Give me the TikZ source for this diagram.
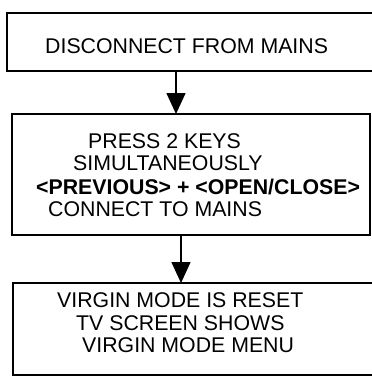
\documentclass[tikz,border=0pt]{standalone}
\usepackage{fontspec}
\setmainfont{Liberation Sans}
\usetikzlibrary{arrows.meta}
\begin{document}
\begin{tikzpicture}[x=1pt,y=-1pt,
  boxline/.style={line width=2pt},
  txt/.style={anchor=base west,inner sep=0pt,font=\fontsize{21.3}{24}\selectfont},
  flow/.style={line width=1.6pt,-{Triangle[length=21pt,width=19pt]}}]
\useasboundingbox (0,0) rectangle (372,376);
\begin{scope}
\clip (0,0) rectangle (372,376);
\draw[boxline] (7,13) rectangle (390,71);
\draw[boxline] (12,114) rectangle (370,235);
\draw[boxline] (13,283) rectangle (390,375);
\end{scope}
\coordinate (b1) at (176,71);
\coordinate (b2t) at (176,114);
\coordinate (b2b) at (181,235);
\coordinate (b3) at (181,283);
\node[txt] (t1) at (45,53) {DISCONNECT FROM MAINS};
\node[txt] (t2a) at (88,148) {PRESS 2 KEYS};
\node[txt] (t2b) at (73,170) {SIMULTANEOUSLY};
\node[txt,font=\fontsize{21.3}{24}\selectfont\bfseries] (t2c) at (36,194) {<PREVIOUS> + <OPEN/CLOSE>};
\node[txt] (t2d) at (48,216) {CONNECT TO MAINS};
\node[txt] (t3a) at (57,307) {VIRGIN MODE IS RESET};
\node[txt] (t3b) at (76,330) {TV SCREEN SHOWS};
\node[txt] (t3c) at (82,352) {VIRGIN MODE MENU};
\draw[flow] (b1) -- (b2t);
\draw[flow] (b2b) -- (b3);
\end{tikzpicture}
\end{document}
